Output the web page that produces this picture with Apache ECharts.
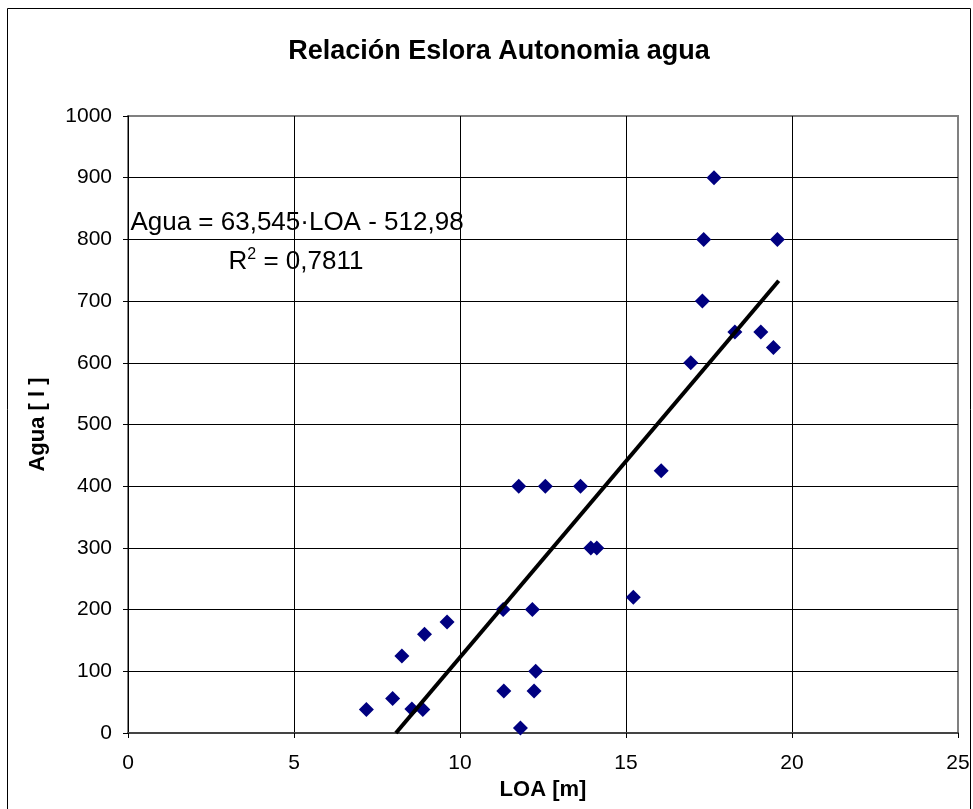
<!DOCTYPE html>
<html>
<head>
<meta charset="utf-8">
<script src="https://cdn.jsdelivr.net/npm/echarts@6/dist/echarts.min.js"></script>
<style>
  html, body { margin: 0; padding: 0; background: #fff; }
  #chart { width: 973px; height: 809px; }
</style>
</head>
<body>
<div id="chart"></div>
<script>
// LOA [m] vs Agua [l]
const loa = [7.18, 7.97, 8.25, 8.55, 8.88, 8.93, 9.61, 11.3, 11.32, 11.77, 11.82, 12.18, 12.23, 12.28,
  12.57, 13.63, 13.94, 14.12, 15.22, 16.06, 16.95, 17.3, 17.34, 17.65, 18.28, 19.06, 19.44, 19.56];
const agua = [38, 56, 125, 39, 38, 160, 180, 200, 68, 400, 8, 200, 68, 100,
  400, 400, 300, 300, 220, 425, 600, 700, 800, 900, 650, 650, 625, 800];

// linear trend line endpoints
const trendLoa = [8.07, 19.6];
const trendAgua = [0, 733];

const xTicks = [0, 5, 10, 15, 20, 25];
const yTicks = [0, 100, 200, 300, 400, 500, 600, 700, 800, 900, 1000];

const points = loa.map((x, i) => [x, agua[i]]);
const trend = trendLoa.map((x, i) => [x, trendAgua[i]]);

const FONT = "Liberation Sans, Arial, sans-serif";

// last grid line (plot border) is grey, the rest black
const xGridColors = xTicks.map((t, i) => (i === xTicks.length - 1 ? "#808080" : "#000"));
const yGridColors = yTicks.map((t, i) => (i === yTicks.length - 1 ? "#808080" : "#000"));

const chart = echarts.init(document.getElementById("chart"), null, { renderer: "canvas" });

chart.setOption({
  animation: false,
  backgroundColor: "#fff",
  title: {
    text: "Relación Eslora Autonomia agua",
    left: 494,
    top: 33,
    textAlign: "center",
    textStyle: { fontFamily: FONT, fontSize: 27, fontWeight: "bold", color: "#000" }
  },
  grid: {
    left: 128, right: 15, top: 116, bottom: 76,
    show: true, borderColor: "#808080", borderWidth: 2, backgroundColor: "#fff"
  },
  xAxis: {
    type: "value",
    min: xTicks[0],
    max: xTicks[xTicks.length - 1],
    interval: 5,
    name: "LOA [m]",
    nameLocation: "middle",
    nameGap: 46,
    nameTextStyle: { fontFamily: FONT, fontSize: 22, fontWeight: "bold", color: "#000" },
    axisLine: { lineStyle: { color: "#444", width: 2 } },
    axisTick: { show: true, length: 5, lineStyle: { color: "#000" } },
    axisLabel: { fontFamily: FONT, fontSize: 21, color: "#000", margin: 20 },
    splitLine: { show: true, lineStyle: { color: xGridColors, width: 1 } }
  },
  yAxis: {
    type: "value",
    min: yTicks[0],
    max: yTicks[yTicks.length - 1],
    interval: 100,
    name: "Agua [ l ]",
    nameLocation: "middle",
    nameGap: 79,
    nameTextStyle: { fontFamily: FONT, fontSize: 22, fontWeight: "bold", color: "#000" },
    axisLine: { show: true, lineStyle: { color: "#000", width: 1 } },
    axisTick: { show: true, length: 5, lineStyle: { color: "#000" } },
    axisLabel: { fontFamily: FONT, fontSize: 21, color: "#000", margin: 16, formatter: (v) => String(v) },
    splitLine: { show: true, lineStyle: { color: yGridColors, width: 1 } }
  },
  series: [
    {
      type: "scatter",
      data: points,
      symbol: "diamond",
      symbolSize: 15,
      itemStyle: { color: "#000080", opacity: 1 },
      z: 3
    },
    {
      type: "line",
      data: trend,
      symbol: "none",
      lineStyle: { color: "#000", width: 4 },
      z: 4
    }
  ],
  graphic: [
    {
      type: "rect",
      left: 5, top: 6,
      shape: { width: 963, height: 820 },
      style: { fill: null, stroke: "#000", lineWidth: 1 },
      silent: true,
      z: 100
    },
    {
      type: "text",
      x: 297, y: 223,
      style: {
        text: "Agua = 63,545·LOA - 512,98",
        font: "26px " + FONT,
        fill: "#000",
        align: "center",
        verticalAlign: "middle"
      },
      z: 100
    },
    {
      type: "text",
      x: 296, y: 261,
      style: {
        text: "{n|R}{s|2}{n| = 0,7811}",
        rich: {
          n: { font: "26px " + FONT, fill: "#000", verticalAlign: "bottom", lineHeight: 28 },
          s: { font: "16px " + FONT, fill: "#000", verticalAlign: "top", lineHeight: 28 }
        },
        align: "center",
        verticalAlign: "middle"
      },
      z: 100
    }
  ]
});
</script>
</body>
</html>
